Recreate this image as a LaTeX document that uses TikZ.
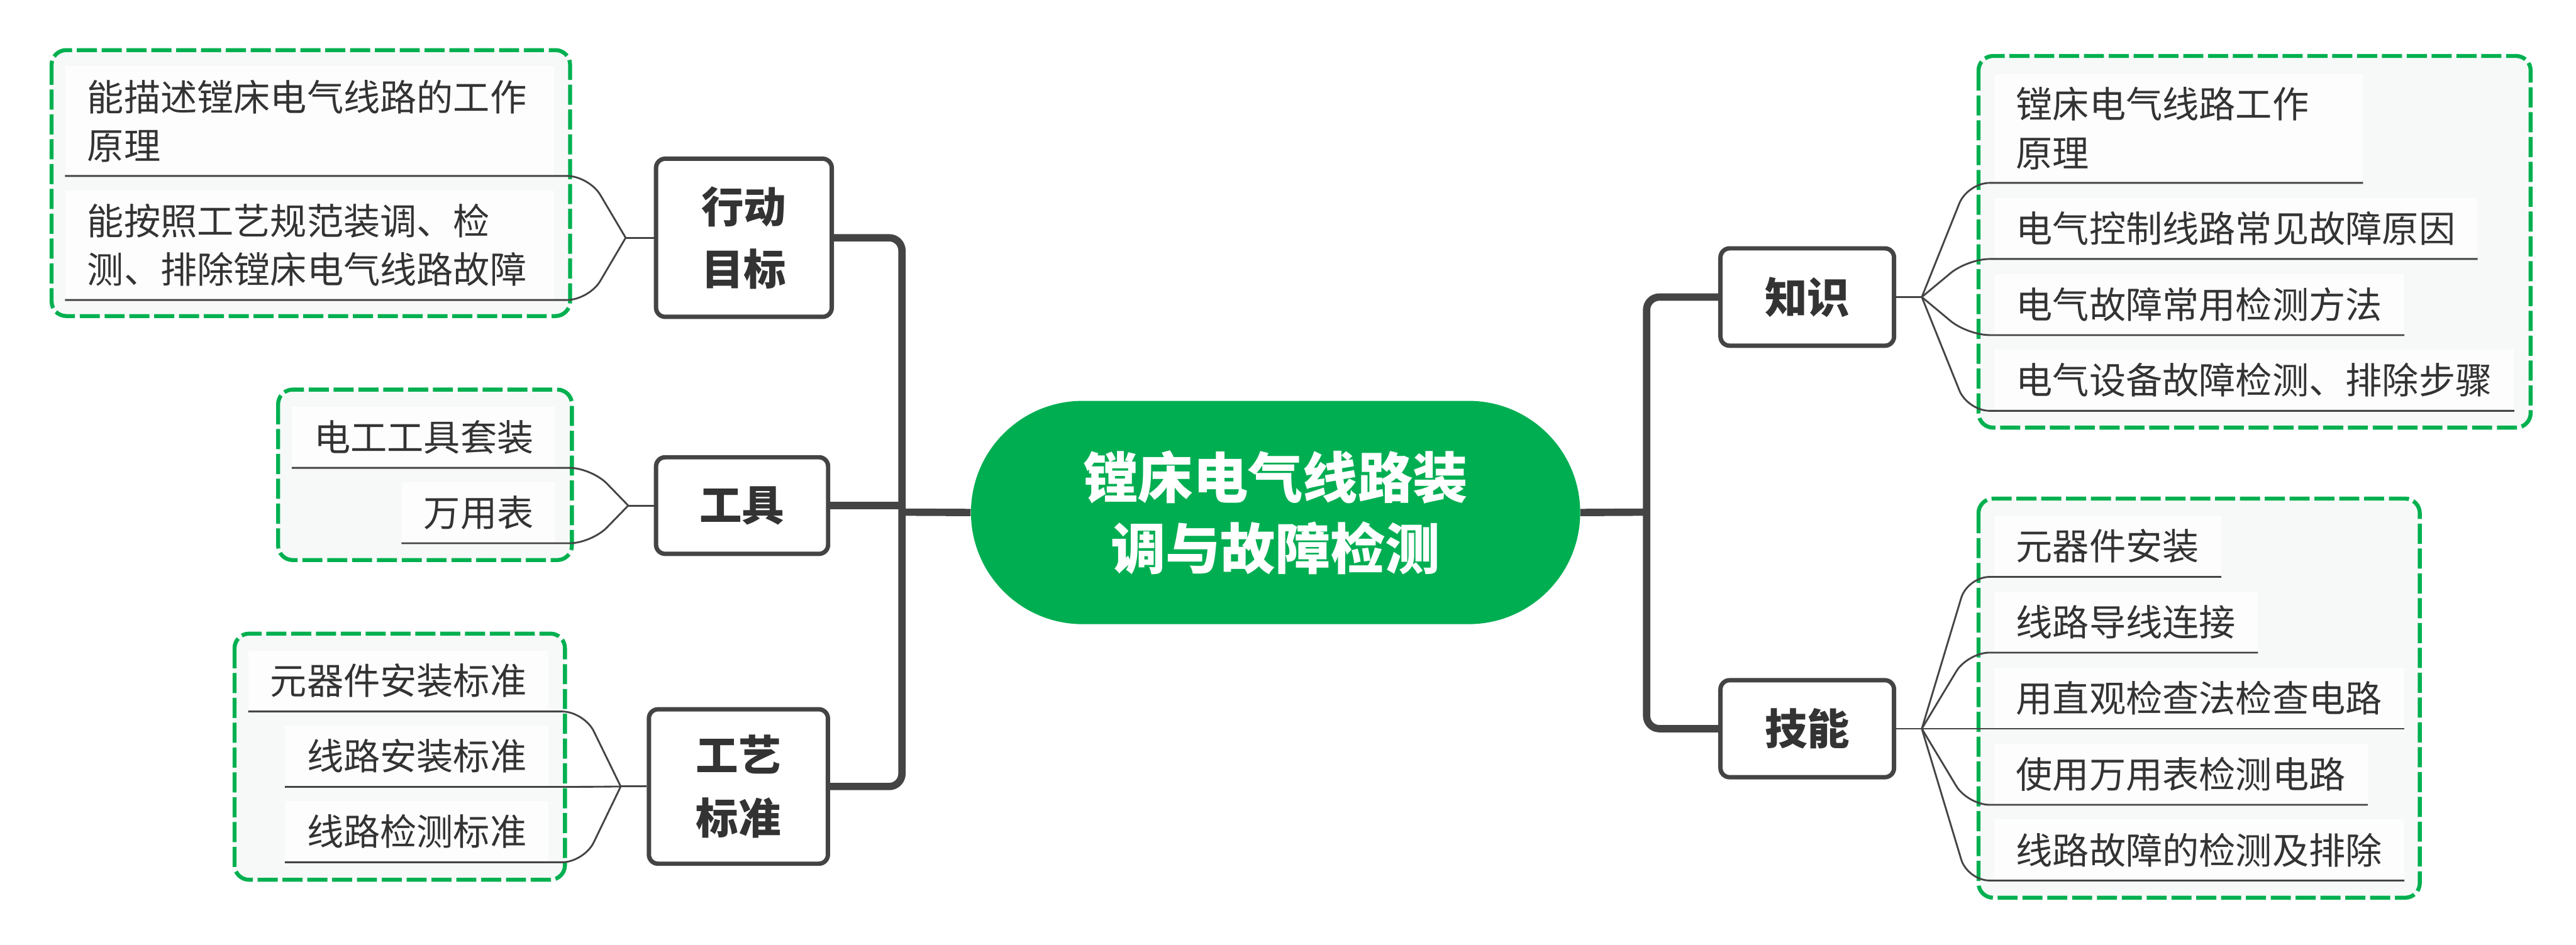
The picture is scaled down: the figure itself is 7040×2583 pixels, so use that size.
\documentclass[tikz,border=0pt]{standalone}
\usepackage{fontspec}
\setmainfont{Noto Sans CJK SC}
\usetikzlibrary{calc}
\definecolor{dk}{HTML}{444444}
\definecolor{tx}{HTML}{333333}
\definecolor{gr}{HTML}{00AE52}
\definecolor{gd}{HTML}{00B050}
\definecolor{gfill}{HTML}{F6F9F7}
\definecolor{lfill}{HTML}{FDFDFD}
\tikzset{
  trunk/.style={draw=dk, line width=5.7pt, rounded corners=0.35cm},
  twig/.style={draw=dk, line width=1.4pt, rounded corners=0.6cm},
  branchbox/.style={draw=dk, line width=3.4pt, rounded corners=0.25cm, fill=white, text=tx,
    font=\bfseries\fontsize{33pt}{48.4pt}\selectfont, align=center, inner sep=0pt},
  leaf/.style={fill=lfill, text=tx, font=\fontsize{28.45pt}{37.8pt}\selectfont,
    inner xsep=0.6cm, inner ysep=0pt, minimum height=1.66cm, align=left},
  group/.style={draw=gd, fill=gfill, line width=3.1pt, dash pattern=on 15.6pt off 3.7pt, rounded corners=0.4cm},
  centre/.style={fill=gr, text=white, rounded corners=3.05cm, minimum width=16.64cm, minimum height=6.1cm,
    font=\bfseries\fontsize{42.7pt}{55.2pt}\selectfont, align=center, inner sep=0pt}
}
\begin{document}
\begin{tikzpicture}[x=0.01cm,y=-0.01cm]
\useasboundingbox (0,0) rectangle (7040,2583);
% group frames
\draw[group] (141,137) rectangle (1558,864);
\draw[group] (760,1065) rectangle (1563,1531);
\draw[group] (641,1732) rectangle (1544,2405);
\draw[group] (5407,153) rectangle (6916,1169);
\draw[group] (5407,1363) rectangle (6613,2454);

% centre
\node[centre] (c) at (3486,1401) {镗床电气线路装\\调与故障检测};

% branch boxes
\node[branchbox, minimum width=4.8cm, minimum height=4.32cm] (b1) at (2033,650) {行动\\目标};
\node[branchbox, minimum width=4.7cm, minimum height=2.64cm] (b2) at (2028,1382) {工具};
\node[branchbox, minimum width=4.89cm, minimum height=4.22cm] (b3) at (2018,2150) {工艺\\标准};
\node[branchbox, minimum width=4.74cm, minimum height=2.66cm] (k) at (4939,812) {知识};
\node[branchbox, minimum width=4.74cm, minimum height=2.65cm] (j) at (4939,1992) {技能};

% trunks
\coordinate (tl) at (2465,1400);
\coordinate (tr) at (4500,1400);
\draw[trunk] (b1.east) -- (b1.east -| tl) -- (b3.east -| tl) -- (b3.east);
\draw[trunk] (b2.east) -- (b2.east -| tl);
\draw[trunk] (c.west) -- (tl);
\draw[trunk] (k.west) -- (k.west -| tr) -- (j.west -| tr) -- (j.west);
\draw[trunk] (c.east) -- (tr);

% forks
\coordinate (f1) at ($(b1.west)+(-77,0)$);
\coordinate (f2) at ($(b2.west)+(-70,0)$);
\coordinate (f3) at ($(b3.west)+(-71,0)$);
\coordinate (fk) at ($(k.east)+(70,0)$);
\coordinate (fj) at ($(j.east)+(70,0)$);
\draw[twig] (b1.west) -- (f1);
\draw[twig] (b2.west) -- (f2);
\draw[twig] (b3.west) -- (f3);
\draw[twig] (k.east) -- (fk);
\draw[twig] (j.east) -- (fj);

% left leaves
\node[leaf, anchor=south east, text width=12.15cm, minimum height=2.99cm] (a1) at (1515,481) {能描述镗床电气线路的工作\\原理};
\node[leaf, anchor=south east, text width=12.15cm, minimum height=2.99cm] (a2) at (1515,820) {能按照工艺规范装调、检\\测、排除镗床电气线路故障};
\node[leaf, anchor=south east] (t1) at (1519,1279) {电工工具套装};
\node[leaf, anchor=south east] (t2) at (1519,1485) {万用表};
\node[leaf, anchor=south east] (s1) at (1500,1945) {元器件安装标准};
\node[leaf, anchor=south east] (s2) at (1500,2151) {线路安装标准};
\node[leaf, anchor=south east] (s3) at (1500,2357) {线路检测标准};

% right leaves
\node[leaf, anchor=south west, text width=8.87cm, minimum height=2.97cm] (k1) at (5449,500) {镗床电气线路工作\\原理};
\node[leaf, anchor=south west] (k2) at (5449,708) {电气控制线路常见故障原因};
\node[leaf, anchor=south west] (k3) at (5449,916) {电气故障常用检测方法};
\node[leaf, anchor=south west] (k4) at (5449,1123) {电气设备故障检测、排除步骤};
\node[leaf, anchor=south west] (j1) at (5449,1577) {元器件安装};
\node[leaf, anchor=south west] (j2) at (5449,1784) {线路导线连接};
\node[leaf, anchor=south west] (j3) at (5449,1992) {用直观检查法检查电路};
\node[leaf, anchor=south west] (j4) at (5449,2200) {使用万用表检测电路};
\node[leaf, anchor=south west] (j5) at (5449,2407) {线路故障的检测及排除};

% left connectors with underlines
\foreach \f/\l in {f1/a1,f1/a2,f2/t1,f2/t2,f3/s1,f3/s2,f3/s3}{
  \draw[twig] (\f) -- ($(\l.south -| \f)+(-100,0)$) -- (\l.south west);
}
% right connectors with underlines
\foreach \f/\l in {fk/k1,fk/k2,fk/k3,fk/k4,fj/j1,fj/j2,fj/j3,fj/j4,fj/j5}{
  \draw[twig] (\f) -- ($(\l.south -| \f)+(125,0)$) -- (\l.south east);
}
\end{tikzpicture}
\end{document}
